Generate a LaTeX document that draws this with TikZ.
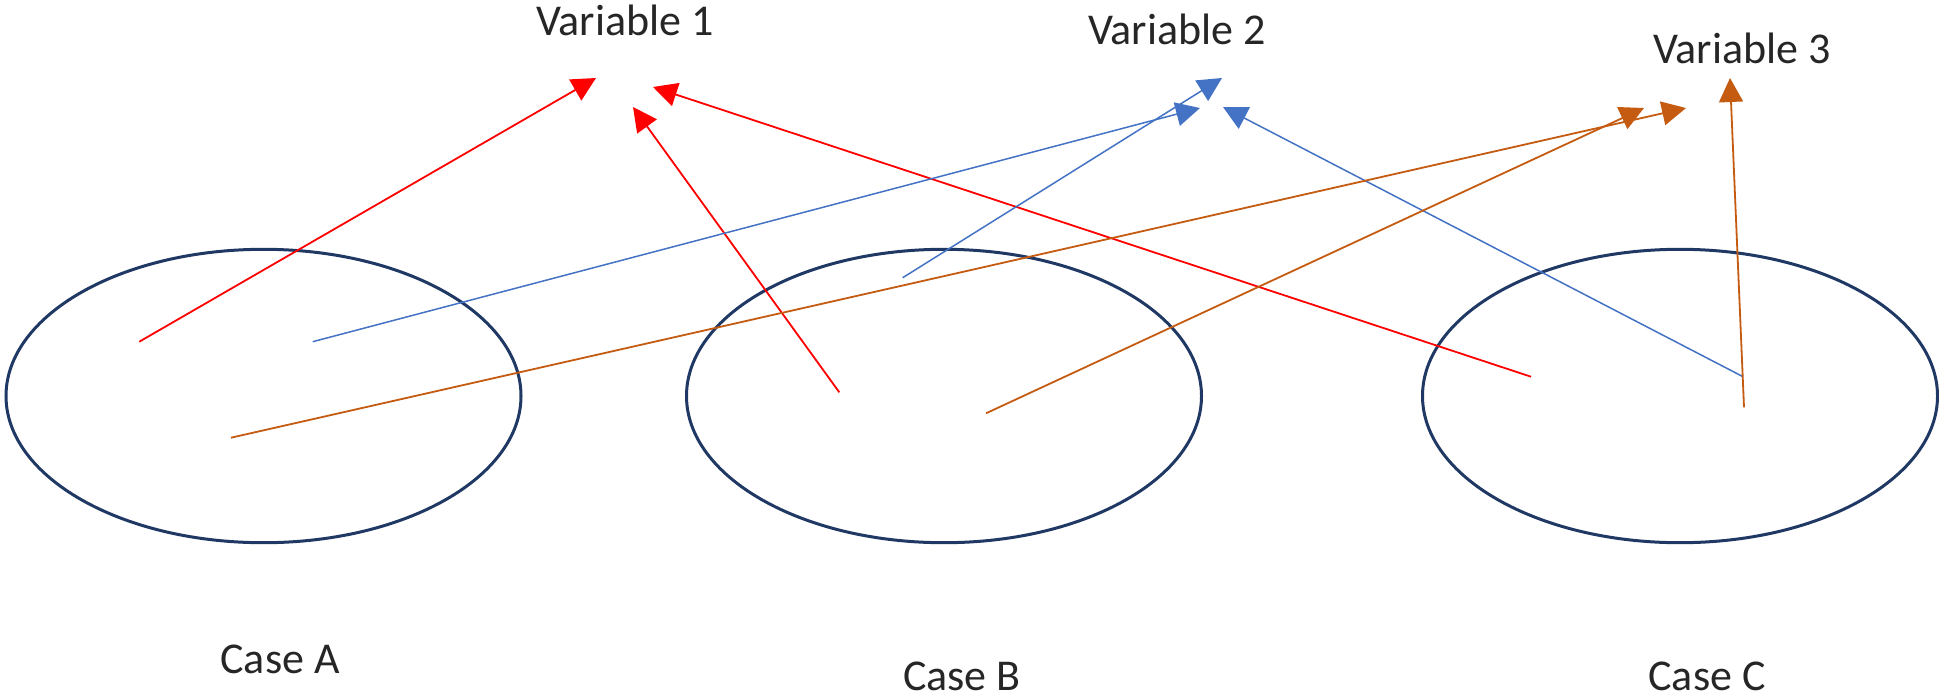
\documentclass[tikz,border=0pt]{standalone}
\usepackage{fontspec}
\setmainfont{Carlito}
\usetikzlibrary{shapes.geometric,arrows.meta}
\definecolor{navy}{HTML}{1F3864}
\definecolor{vred}{HTML}{FF0000}
\definecolor{vblue}{HTML}{4472C4}
\definecolor{vorange}{HTML}{C55A11}
\tikzset{
  casebox/.style={draw=navy,line width=1.5pt,ellipse,minimum width=257.5pt,minimum height=146.7pt,inner sep=0pt},
  lbl/.style={font=\fontsize{22}{26}\selectfont,text=black!85,inner sep=0pt},
  link/.style={line width=0.9pt,-{Triangle[length=12pt,width=12pt]}},
  r/.style={link,draw=vred,fill=vred},
  b/.style={link,draw=vblue,fill=vblue,line width=0.75pt},
  o/.style={link,draw=vorange,fill=vorange},
}
\begin{document}
\begin{tikzpicture}[x=0.5pt,y=-0.5pt]
\useasboundingbox (0,0) rectangle (1939,697);
\node[casebox] (A) at (263.5,396) {};
\node[casebox] (B) at (944,396) {};
\node[casebox] (C) at (1680,396) {};
\node[lbl] (v1) at (625,20) {Variable 1};
\node[lbl] (v2) at (1177,29) {Variable 2};
\node[lbl] (v3) at (1742,48) {Variable 3};
\node[lbl] (ca) at (280,659) {Case A};
\node[lbl] (cb) at (962,676) {Case B};
\node[lbl] (cc) at (1707,676) {Case C};
% start points
\coordinate (rA) at (139.3,341.7);
\coordinate (rB) at (839.3,392.3);
\coordinate (rC) at (1531,376.7);
\coordinate (bA) at (312.7,341.7);
\coordinate (bB) at (902.7,277.7);
\coordinate (bC) at (1743,376.7);
\coordinate (oA) at (231,437.7);
\coordinate (oB) at (986,413.3);
\coordinate (oC) at (1744,407.3);
% targets
\coordinate (t1a) at (596,78);
\coordinate (t1b) at (633,107);
\coordinate (t1c) at (653,87);
\coordinate (t2a) at (1200,108);
\coordinate (t2b) at (1222,78);
\coordinate (t2c) at (1223,107);
\coordinate (t3a) at (1686,108);
\coordinate (t3b) at (1644,108);
\coordinate (t3c) at (1730,78);
\draw[r] (rA) -- (t1a);
\draw[r] (rB) -- (t1b);
\draw[r] (rC) -- (t1c);
\draw[b] (bA) -- (t2a);
\draw[b] (bB) -- (t2b);
\draw[b] (bC) -- (t2c);
\draw[o] (oA) -- (t3a);
\draw[o] (oB) -- (t3b);
\draw[o] (oC) -- (t3c);
\end{tikzpicture}
\end{document}
